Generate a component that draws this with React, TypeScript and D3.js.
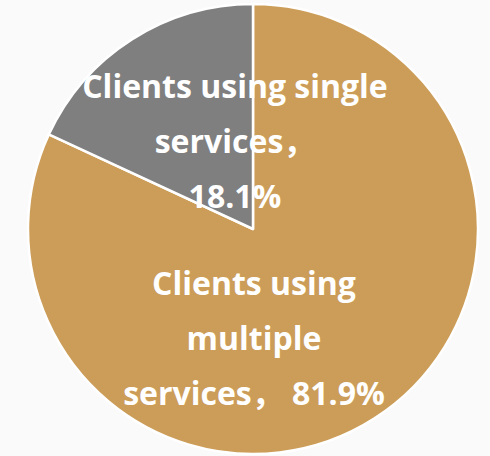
import React from "react";
import * as d3 from "d3";

const categories = ["Clients using multiple services", "Clients using single services"];
const values = [81.9, 18.1];
const colors = ["#CC9D58", "#7F7F7F"];
const labelLines = [
  ["Clients using", "multiple", "services， 81.9%"],
  ["Clients using single", "services，", "18.1%"],
];

const W = 490;
const H = 456;
const cx = 253;
const cy = 229;
const R = 225;
const labelCenters = [
  [254, 350],
  [235, 153],
];
const lineH = 55;

export default function App() {
  const pie = d3.pie<number>().sort(null).value((d) => d);
  const arcs = pie(values);
  const arc = d3.arc<d3.PieArcDatum<number>>().innerRadius(0).outerRadius(R);
  return (
    <div style={{ position: "fixed", left: 0, top: 0, width: W, height: H }}>
      <svg width={W} height={H} style={{ display: "block" }}>
        <rect x={0} y={0} width={W} height={H} fill="#FAFAFA" />
        <g transform={`translate(${cx},${cy})`}>
          {arcs.map((a, i) => (
            <path key={categories[i]} d={arc(a) || ""} fill={colors[i]} stroke="#FFFFFF" strokeWidth={2.5} strokeLinejoin="round" />
          ))}
        </g>
        {labelLines.map((lines, i) => (
          <text
            key={i}
            textAnchor="middle"
            fill="#FFFFFF"
            fontFamily="'Open Sans', 'Noto Sans CJK SC', sans-serif"
            fontWeight={700}
            fontSize={32}
          >
            {lines.map((l, j) => (
              <tspan key={j} x={labelCenters[i][0]} y={labelCenters[i][1] + (j - 1) * lineH}>
                {l}
              </tspan>
            ))}
          </text>
        ))}
      </svg>
    </div>
  );
}
